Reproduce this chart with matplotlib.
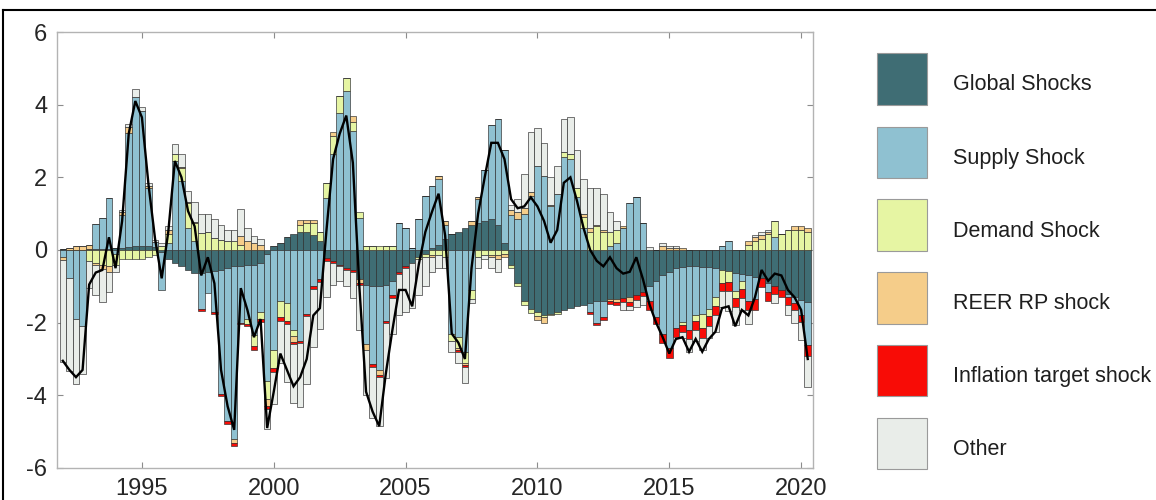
import numpy as np
import matplotlib
matplotlib.use("Agg")
import matplotlib.pyplot as plt
from matplotlib.patches import Rectangle
from matplotlib.lines import Line2D

plt.rcParams["font.family"] = ["Liberation Sans", "DejaVu Sans"]
plt.rcParams["axes.unicode_minus"] = False

# Quarterly historical decomposition, 1992Q1 - 2020Q2
start_year = 1992

global_shocks = [
    0.02, 0.0, 0.0, 0.0, 0.02, 0.02, 0.02, 0.02, 0.05, 0.05,
    0.08, 0.12, 0.12, 0.1, 0.08, -0.05, -0.25, -0.35, -0.45, -0.55,
    -0.63, -0.63, -0.6, -0.57, -0.55, -0.5, -0.45, -0.43, -0.4, -0.4,
    -0.35, -0.1, 0.12, 0.2, 0.35, 0.45, 0.5, 0.5, 0.4, 0.25,
    -0.22, -0.3, -0.4, -0.5, -0.55, -0.8, -0.95, -1.0, -1.0, -0.95,
    -0.85, -0.6, -0.45, -0.35, -0.2, -0.1, 0.05, 0.15, 0.3, 0.45,
    0.5, 0.6, 0.7, 0.75, 0.8, 0.85, 0.7, 0.2, -0.4, -0.9,
    -1.4, -1.62, -1.72, -1.8, -1.75, -1.7, -1.65, -1.6, -1.55, -1.5,
    -1.45, -1.4, -1.4, -1.35, -1.35, -1.32, -1.3, -1.25, -1.15, -1.0,
    -0.85, -0.7, -0.6, -0.5, -0.47, -0.45, -0.45, -0.46, -0.48, -0.5,
    -0.55, -0.58, -0.62, -0.66, -0.7, -0.74, -0.78, -0.9, -1.0, -1.1,
    -1.2, -1.3, -1.38, -1.42,
]

supply_shock = [
    -0.2, -0.77, -1.9, -2.1, 0.0, 0.7, 0.86, 1.42, -0.1, 0.9,
    3.15, 4.1, 3.7, 1.6, 0.15, -1.05, 0.2, 2.45, 1.9, 0.6,
    0.25, -1.0, -0.58, -1.13, -3.4, -4.2, -4.75, -1.57, -1.5, -1.95,
    -1.35, -3.5, -2.75, -1.4, -1.45, -2.2, -2.5, -1.75, -1.0, -0.8,
    1.42, 2.63, 3.78, 4.37, 3.27, 0.88, -1.65, -2.15, -2.3, -1.0,
    -0.4, 0.75, 0.6, 0.05, 0.85, 1.5, 1.7, 1.8, 0.4, -2.3,
    -2.4, -2.8, -1.1, 0.65, 1.4, 2.6, 2.9, 2.55, 0.95, 0.85,
    1.0, 1.5, 2.3, 2.05, 1.2, 1.55, 2.55, 2.5, 1.45, 0.6,
    -0.25, -0.6, -0.45, 0.1, 0.2, 0.6, 1.28, 1.46, 0.73, -0.4,
    -1.0, -1.6, -2.1, -1.65, -1.5, -1.75, -1.35, -1.3, -1.15, -0.8,
    0.12, 0.25, -0.5, -0.2, -0.7, -0.6, 0.0, -0.25, 0.35, 0.0,
    -0.1, -0.15, -0.4, -1.2,
]

demand_shock = [
    0.0, 0.0, 0.0, 0.0, -0.3, -0.35, -0.4, -0.45, -0.3, -0.25,
    -0.25, -0.25, -0.25, -0.2, -0.15, 0.1, 0.25, 0.2, 0.35, 0.7,
    0.5, 0.47, 0.5, 0.33, 0.28, 0.24, 0.25, 0.15, -0.15, -0.3,
    -0.2, -0.5, -0.5, -0.45, -0.5, -0.18, 0.2, 0.25, 0.35, 0.25,
    0.43, 0.5, 0.46, 0.37, 0.26, 0.17, 0.1, 0.1, 0.1, 0.1,
    0.1, 0.0, 0.0, 0.0, -0.05, -0.1, -0.15, -0.15, -0.2, -0.2,
    -0.3, -0.3, -0.25, -0.2, -0.15, -0.15, -0.15, -0.1, -0.1, -0.1,
    -0.1, -0.12, -0.1, -0.05, -0.05, -0.05, 0.15, 0.15, 0.25, 0.3,
    0.5, 0.65, 0.5, 0.4, 0.35, 0.0, 0.0, 0.0, 0.0, 0.0,
    0.0, 0.0, 0.0, 0.0, -0.1, 0.0, -0.15, -0.4, -0.2, -0.25,
    -0.35, -0.3, -0.2, -0.2, 0.15, 0.25, 0.3, 0.45, 0.45, 0.45,
    0.55, 0.55, 0.55, 0.5,
]

reer_rp_shock = [
    -0.08, 0.05, 0.1, 0.1, 0.12, -0.05, -0.12, -0.15, 0.0, 0.1,
    0.15, 0.0, 0.0, 0.05, 0.0, 0.0, 0.1, 0.0, 0.03, 0.03,
    0.02, 0.0, 0.0, 0.0, 0.0, 0.0, -0.12, 0.23, 0.25, 0.18,
    0.15, -0.18, 0.0, 0.0, 0.0, -0.15, 0.12, 0.08, 0.08, 0.0,
    0.0, 0.13, 0.0, 0.0, 0.16, -0.12, -0.14, 0.0, -0.14, 0.0,
    0.0, 0.0, 0.0, 0.0, 0.0, 0.0, -0.05, 0.1, 0.1, 0.0,
    -0.05, -0.07, 0.1, 0.05, 0.0, -0.05, -0.1, -0.1, 0.15, 0.2,
    0.15, 0.1, -0.1, -0.15, 0.05, 0.0, 0.0, 0.0, 0.0, 0.1,
    0.1, 0.05, 0.05, -0.05, -0.07, 0.06, -0.12, 0.0, 0.0, 0.0,
    0.0, 0.1, 0.05, 0.05, 0.05, 0.0, 0.0, 0.0, 0.0, 0.0,
    0.0, 0.0, 0.0, 0.0, 0.1, 0.1, 0.1, 0.05, 0.0, 0.0,
    0.0, 0.1, 0.1, 0.1,
]

inflation_target_shock = [
    0.0, 0.0, 0.0, 0.0, 0.0, 0.0, 0.0, 0.0, 0.0, 0.0,
    0.0, 0.0, 0.0, 0.0, 0.0, 0.0, 0.0, 0.0, 0.0, 0.0,
    0.0, -0.05, 0.0, -0.05, -0.07, -0.08, -0.08, -0.05, -0.05, -0.1,
    -0.07, -0.1, -0.1, -0.1, -0.08, -0.07, -0.07, -0.07, -0.07, -0.07,
    -0.07, -0.05, -0.05, -0.05, -0.05, -0.05, 0.0, -0.08, -0.05, -0.07,
    -0.07, -0.05, -0.05, 0.0, 0.0, 0.0, 0.0, 0.0, 0.0, 0.0,
    -0.05, -0.05, 0.0, 0.0, 0.0, 0.0, 0.0, 0.0, 0.0, 0.0,
    0.0, 0.0, 0.0, 0.0, 0.0, 0.0, 0.0, 0.0, 0.0, 0.0,
    -0.07, -0.07, -0.07, -0.08, -0.08, -0.12, -0.13, -0.12, -0.12, -0.25,
    -0.2, -0.25, -0.28, -0.25, -0.2, -0.25, -0.25, -0.25, -0.25, -0.25,
    -0.22, -0.25, -0.25, -0.25, -0.25, -0.3, -0.25, -0.25, -0.2, -0.2,
    -0.2, -0.2, -0.2, -0.3,
]

other = [
    -2.8, -2.57, -1.8, -1.3, -0.75, -0.85, -0.9, -0.55, -0.2, 0.05,
    0.1, 0.2, 0.12, 0.1, 0.05, 0.1, 0.12, 0.28, 0.35, 0.3,
    0.55, 0.51, 0.49, 0.51, 0.42, 0.32, 0.31, 0.76, 0.35, 0.2,
    0.14, -0.55, -0.9, -1.15, -1.6, -1.6, -1.75, -1.88, -1.6, -1.3,
    -1.0, -0.6, -0.4, -0.45, -0.72, -1.23, -1.24, -1.39, -1.36, -1.5,
    -1.0, -1.15, -1.2, -1.25, -1.0, -0.8, -0.4, -0.35, -0.3, -0.3,
    -0.3, -0.45, -0.1, -0.3, -0.1, -0.3, -0.35, 0.0, 0.15, 0.35,
    0.95, 1.65, 1.05, 0.9, 0.75, 0.75, 0.9, 1.0, 1.05, 0.95,
    1.1, 1.0, 1.0, 0.55, 0.25, -0.2, -0.1, -0.2, -0.25, 0.08,
    0.0, 0.1, 0.05, 0.05, -0.15, -0.35, -0.3, -0.35, -0.35, -0.45,
    -0.45, -0.55, -0.5, -0.35, -0.4, 0.05, 0.1, 0.05, -0.25, 0.0,
    -0.3, -0.35, -0.5, -0.85,
]

observed = [
    -3.05, -3.3, -3.5, -3.3, -0.95, -0.62, -0.55, 0.35, -0.5, 0.8,
    3.2, 4.1, 3.65, 1.8, 0.3, -0.78, 0.5, 2.45, 2.0, 1.07,
    0.65, -0.7, -0.2, -0.92, -3.3, -4.3, -4.95, -1.05, -1.65, -2.4,
    -1.9, -4.9, -3.9, -2.85, -3.3, -3.75, -3.5, -3.0, -1.8, -1.6,
    0.55, 2.5, 3.2, 3.7, 2.4, -1.05, -3.9, -4.45, -4.85, -3.4,
    -2.2, -1.1, -1.1, -1.55, -0.4, 0.5, 1.05, 1.55, 0.4, -2.3,
    -2.55, -3.0, -0.5, 1.0, 2.0, 2.95, 2.95, 2.5, 1.4, 1.15,
    1.2, 1.45, 1.2, 0.8, 0.2, 0.55, 1.85, 2.0, 1.35, 0.6,
    0.0, -0.3, -0.45, -0.2, -0.5, -0.65, -0.6, -0.2, -0.8, -1.5,
    -2.0, -2.4, -2.85, -2.45, -2.4, -2.8, -2.45, -2.8, -2.45, -2.25,
    -1.6, -1.55, -2.1, -1.65, -1.8, -1.3, -0.55, -0.85, -0.65, -0.7,
    -1.1, -1.3, -1.65, -3.0,
]

series_names = ["Global Shocks", "Supply Shock", "Demand Shock",
                "REER RP shock", "Inflation target shock", "Other"]
series_colors = ["#3f6d74", "#8fc1d1", "#e6f5a3", "#f5cd8a", "#f80c06", "#e9ede9"]
series_values = [global_shocks, supply_shock, demand_shock,
                 reer_rp_shock, inflation_target_shock, other]

year_ticks = [1995, 2000, 2005, 2010, 2015, 2020]
value_ticks = [-6, -4, -2, 0, 2, 4, 6]

W, H = 1156, 500
fig = plt.figure(figsize=(W / 100, H / 100), dpi=100)
ax = fig.add_axes([57 / W, 1 - 468 / H, (813 - 57) / W, (468 - 32) / H])

n = len(observed)
dates = start_year + 0.25 * np.arange(n)
data = np.array(series_values, dtype=float)

pos_base = np.zeros(n)
neg_base = np.zeros(n)
for vals, col in zip(data, series_colors):
    base = np.where(vals >= 0, pos_base, neg_base)
    ax.bar(dates, vals, width=0.25, bottom=base, color=col,
           edgecolor="#2a2a2a", linewidth=0.45, align="center", zorder=2)
    pos_base = pos_base + np.where(vals > 0, vals, 0)
    neg_base = neg_base + np.where(vals < 0, vals, 0)

ax.plot(dates, observed, color="black", linewidth=1.7, zorder=3,
        solid_joinstyle="miter")

ax.set_xlim(1991.78, 2020.45)
ax.set_ylim(-6, 6)
ax.set_xticks(year_ticks)
ax.set_yticks(value_ticks)
ax.set_xticklabels([str(y) for y in year_ticks])
ax.set_yticklabels([str(v) for v in value_ticks])
ax.tick_params(axis="both", direction="in", length=4, width=0.8,
               color="#8c8c8c", labelsize=17, labelcolor="#262626",
               top=True, right=True)
ax.tick_params(axis="x", pad=7.5)
ax.tick_params(axis="y", pad=7)
for sp in ax.spines.values():
    sp.set_color("#b3b3b3")
    sp.set_linewidth(1.0)

# Legend drawn as swatches with labels to the right of the plot
sw_x, sw_w, sw_h = 877, 50, 51.5
tops = [53, 126.7, 199.4, 272.1, 344.8, 417.5]
for name, col, top in zip(series_names, series_colors, tops):
    fig.add_artist(Rectangle((sw_x / W, 1 - (top + sw_h) / H), sw_w / W, sw_h / H,
                             transform=fig.transFigure, facecolor=col,
                             edgecolor="#9a9a9a", linewidth=0.8))
    fig.text(953 / W, 1 - (top + sw_h / 2 + 6) / H, name, fontsize=15.5,
             color="#1f1f1f", va="center", ha="left")

# Outer frame
fig.add_artist(Line2D([3 / W, 1.0], [1 - 10 / H, 1 - 10 / H], transform=fig.transFigure,
                      color="black", linewidth=1.5))
fig.add_artist(Line2D([3 / W, 3 / W], [0, 1 - 10 / H], transform=fig.transFigure,
                      color="black", linewidth=1.5))

fig.savefig("out.png", dpi=100)
